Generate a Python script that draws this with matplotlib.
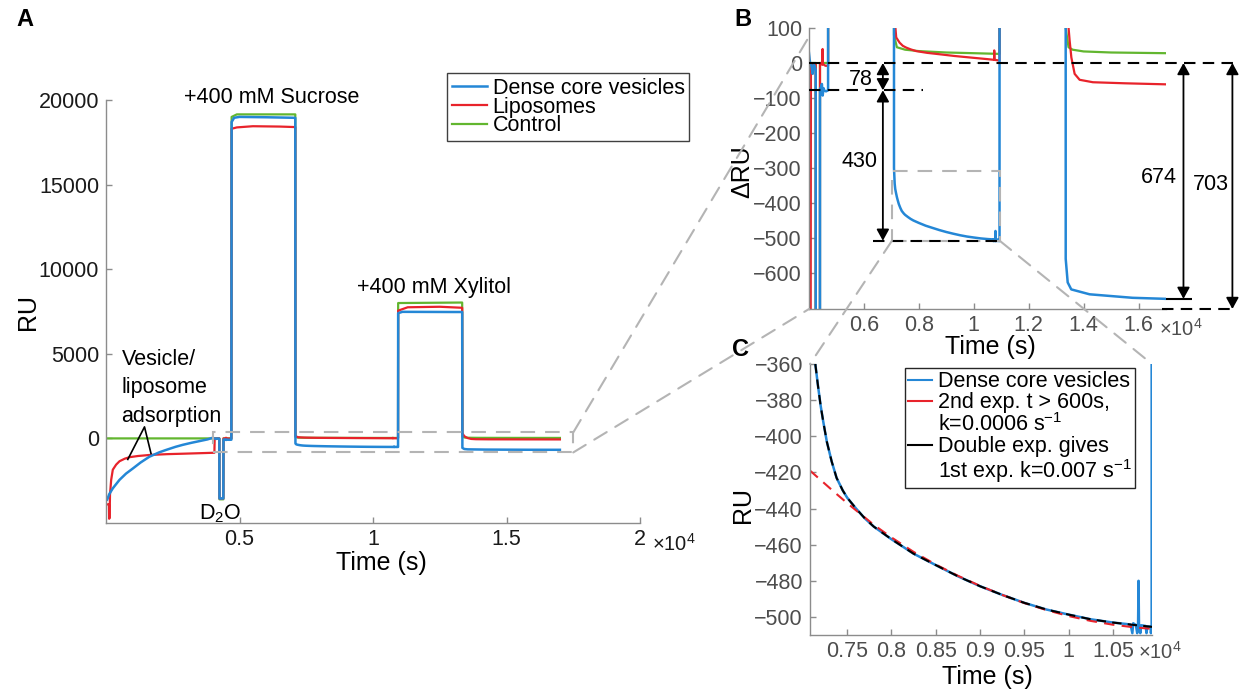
import matplotlib
matplotlib.use('Agg')
import matplotlib.pyplot as plt
from matplotlib.patches import ConnectionPatch, Rectangle
from matplotlib.lines import Line2D

plt.rcParams['font.family'] = ['Liberation Sans', 'DejaVu Sans']
plt.rcParams['mathtext.fontset'] = 'custom'
plt.rcParams['mathtext.rm'] = 'Liberation Sans'
plt.rcParams['mathtext.it'] = 'Liberation Sans:italic'
plt.rcParams['mathtext.bf'] = 'Liberation Sans:bold'

# ---------------- data ----------------
dcv_t = [0, 40, 120, 255, 506, 750, 1004, 1300, 1629, 2000, 2254, 2600, 2876, 3200, 3500, 3800,
         3990, 4036, 4098, 4134, 4170, 4207, 4245, 4250, 4395, 4400, 4436, 4470, 4498, 4530, 4560,
         4620, 4695, 4705, 4800, 5000, 6000, 7000, 7090, 7095, 7120, 7140, 7170, 7200, 7230, 7270,
         7325, 7380, 7450, 7500, 7600, 7700, 7800, 8000, 8250, 8500, 8750, 9000, 9250, 9500, 9750,
         10000, 10250, 10500, 10650, 10700, 10720, 10730, 10760, 10775, 10785, 10790, 10795, 10810,
         10820, 10870, 10880, 10890, 10925, 10930, 10938, 10942, 11100, 13000, 13340, 13348, 13420,
         13550, 14218, 15782, 17000]
dcv_ru = [-3650, -3640, -3300, -2950, -2450, -2080, -1780, -1420, -1080, -820, -680, -500, -380, -260, -160, -60,
          35, 2, -12, -31, -5, -8, -20, -3550, -3550, -75, -69, -60, -93, -72, -79,
          -81, -78, 18700, 18950, 19000, 18980, 18950, 18940, -300, -345, -360, -372, -383, -392, -403,
          -414, -423, -430, -434, -440, -445.5, -450, -457, -465, -471.3, -477.5, -483, -487.8, -492.2, -495.9,
          -498.7, -501.3, -503.1, -503.9, -504.2, -509, -503.5, -504.5, -509, -503, -480, -504, -509,
          -504.6, -505, -509, -505.2, -505.4, -509, -505.5, 7400, 7480, 7470, 7470, -560, -627,
          -647, -661, -671, -674]

lipo_t = [0, 110, 118, 135, 150, 194, 255, 380, 506, 700, 880, 1200, 1629, 2300, 2876, 3500, 4060,
          4070, 4150, 4245, 4250, 4395, 4400, 4480, 4495, 4505, 4600, 4695, 4705, 4900, 5500, 6500,
          7090, 7095, 7176, 7300, 7418, 7540, 7700, 7903, 8300, 8752, 9300, 9964, 10500, 10740, 10745,
          10755, 10938, 10942, 11300, 12500, 13340, 13348, 13420, 13491, 13553, 13673, 13855, 14338,
          15500, 17000]
lipo_ru = [-3900, -3900, -4750, -4700, -3300, -2450, -1850, -1550, -1350, -1200, -1110, -1040, -980, -930, -905, -875, -848,
           -10, -5, -5, -3550, -3550, 0, -5, 40, -3, -8, -8, 18300, 18380, 18450, 18430,
           18400, 150, 73, 58, 49, 44, 39, 34, 29, 25, 20, 15, 11, 9, 36,
           9, 7, 7550, 7750, 7780, 7720, 300, 130, 64, 16, -31, -48, -55,
           -58, -61]

ctrl_t = [0, 4245, 4250, 4395, 4400, 4695, 4705, 4900, 7090, 7095, 7200, 7500, 8000, 9000, 10000,
          10938, 10942, 13340, 13348, 13450, 13600, 14000, 15000, 17000]
ctrl_ru = [0, 0, -3600, -3600, 0, 0, 19000, 19150, 19150, 80, 45, 38, 34, 30, 28,
           26, 8000, 8030, 100, 45, 38, 33, 30, 28]

# single exponential fit (t > 600 s), panel C
fit1_t = [7080, 7200, 7350, 7500, 7650, 7800, 8000, 8250, 8500, 8750, 9000, 9250, 9500, 9750,
          10000, 10250, 10500, 10750, 10942]
fit1_ru = [-419, -424.2, -430.7, -437, -443, -449, -456, -464, -471, -477.2, -482.8, -487.8, -492.3,
           -496.2, -499.5, -502.2, -504.3, -505.8, -506.6]
# double exponential fit, panel C
fit2_t = [7140, 7170, 7200, 7230, 7270, 7325, 7380, 7450, 7500, 7600, 7700, 7800, 8000, 8250, 8500,
          8750, 9000, 9250, 9500, 9750, 10000, 10250, 10500, 10750, 10942]
fit2_ru = [-360, -372, -383, -392, -403, -414, -423, -430, -434, -440, -445.5, -450, -457, -465, -471.3,
           -477.5, -483, -487.8, -492.2, -495.9, -498.7, -501.3, -503.1, -504.5, -505.5]

# reference levels in panel B (RU) and the differences annotated
lvl_base = 0
lvl_d2o = -78
lvl_suc = -508
lvl_dcv = -674
lvl_bottom = -703
labels_B = ['78', '430', '674', '703']

series_labels = ['Dense core vesicles', 'Liposomes', 'Control']
fit_labels = ['Dense core vesicles', '2nd exp. t > 600s,', 'k=0.0006 s$^{-1}$',
              'Double exp. gives', '1st exp. k=0.007 s$^{-1}$']

A_xticks = [5000, 10000, 15000, 20000]
A_xticklabels = ['0.5', '1', '1.5', '2']
A_yticks = [0, 5000, 10000, 15000, 20000]
B_xticks = [6000, 8000, 10000, 12000, 14000, 16000]
B_xticklabels = ['0.6', '0.8', '1', '1.2', '1.4', '1.6']
B_yticks = [-600, -500, -400, -300, -200, -100, 0, 100]
C_xticks = [7500, 8000, 8500, 9000, 9500, 10000, 10500]
C_xticklabels = ['0.75', '0.8', '0.85', '0.9', '0.95', '1', '1.05']
C_yticks = [-500, -480, -460, -440, -420, -400, -380, -360]

# ---------------- styling ----------------
W, H = 1251, 693
c_dcv = '#2487d6'
c_lipo = '#e8232b'
c_ctrl = '#62b62f'
c_gray = '#b4b4b4'
spine_c = '#8c8c8c'
FS = 15.5
LFS = 18

fig = plt.figure(figsize=(W / 100, H / 100), dpi=100)
axA = fig.add_axes([106 / W, 1 - 523 / H, 534 / W, 423 / H])
axB = fig.add_axes([809 / W, 1 - 309 / H, 357 / W, 281 / H])
axC = fig.add_axes([810 / W, 1 - 635 / H, 342 / W, 271 / H])


def style(ax, labc):
    for s in ['top', 'right']:
        ax.spines[s].set_visible(False)
    for s in ['left', 'bottom']:
        ax.spines[s].set_color(spine_c)
        ax.spines[s].set_linewidth(1.0)
    ax.tick_params(direction='in', length=4, width=1, color=spine_c, labelcolor=labc,
                   labelsize=FS)
    ax.tick_params(axis='y', pad=5)
    ax.tick_params(axis='x', pad=4)


gray_dash = (0, (7, 4.8))
LW = 1.6
LWB = 1.8

# ---------------- panel A ----------------
style(axA, '#1a1a1a')
lc, = axA.plot(ctrl_t, ctrl_ru, color=c_ctrl, lw=LW)
ll, = axA.plot(lipo_t, lipo_ru, color=c_lipo, lw=LW)
lb, = axA.plot(dcv_t, dcv_ru, color=c_dcv, lw=LWB)
axA.set_xlim(0, 20000)
axA.set_ylim(-5000, 20000)
axA.set_xticks(A_xticks)
axA.set_xticklabels(A_xticklabels)
axA.set_yticks(A_yticks)
axA.set_xlabel('Time (s)', fontsize=LFS, va='center')
axA.xaxis.set_label_coords(0.515, -0.094)
axA.set_ylabel('RU', fontsize=LFS, va='center')
axA.yaxis.set_label_coords(-0.146, 0.5)
axA.add_patch(Rectangle((4000, -830), 13500, 1180, fill=False, ec=c_gray, lw=1.5,
                        ls=gray_dash, zorder=3))
axA.text(6217, 19822, '+400 mM Sucrose', ha='center', va='baseline', fontsize=FS)
axA.text(12300, 8580, '+400 mM Xylitol', ha='center', va='baseline', fontsize=FS)
axA.text(580, 5266, 'Vesicle/\nliposome\nadsorption', ha='left', va='top', fontsize=FS,
         linespacing=1.45)
axA.plot([816, 1442, 1685], [-1243, 680, -888], color='k', lw=1.2)
axA.text(4288, -4793, 'D$_2$O', ha='center', va='baseline', fontsize=FS)
legA = axA.legend([lb, ll, lc], series_labels, loc='upper left',
                  bbox_to_anchor=(447 / W, 1 - 73 / H), bbox_transform=fig.transFigure,
                  borderaxespad=0, fontsize=FS, fancybox=False, edgecolor='#404040',
                  framealpha=1, borderpad=0.22, labelspacing=-0.1, handlelength=1.65,
                  handletextpad=0.25)
legA.get_frame().set_linewidth(1.0)
fig.text(652 / W, 1 - 551 / H, '×10$^{4}$', ha='left', va='baseline', fontsize=14.5,
         color='#1a1a1a')

# ---------------- panel B ----------------
style(axB, '#4d4d4d')
axB.plot(ctrl_t, ctrl_ru, color=c_ctrl, lw=LW)
axB.plot(lipo_t, lipo_ru, color=c_lipo, lw=LW)
axB.plot(dcv_t, dcv_ru, color=c_dcv, lw=LWB)
axB.set_xlim(4000, 17000)
axB.set_ylim(lvl_bottom, 100)
axB.set_xticks(B_xticks)
axB.set_xticklabels(B_xticklabels)
axB.set_yticks(B_yticks)
axB.set_xlabel('Time (s)', fontsize=LFS, va='center')
axB.xaxis.set_label_coords(0.507, -0.135)
axB.set_ylabel('ΔRU', fontsize=LFS, va='center')
axB.yaxis.set_label_coords(-0.188, 0.4875)
fig.text(1159 / W, 1 - 336 / H, '×10$^{4}$', ha='left', va='baseline', fontsize=14.5,
         color='#4d4d4d')

kdash = (0, (5.5, 3.5))
axB.hlines(lvl_base, 4000, 19600, colors='k', lw=1.5, linestyles=kdash, clip_on=False, zorder=4)
axB.hlines(lvl_d2o, 4000, 8150, colors='k', lw=1.5, linestyles=kdash, clip_on=False, zorder=4)
axB.hlines(lvl_suc, 6330, 10950, colors='k', lw=1.5, linestyles=kdash, clip_on=False, zorder=4)
axB.hlines(lvl_dcv, 17000, 17950, colors='k', lw=1.5, clip_on=False, zorder=4)
axB.hlines(lvl_bottom, 16850, 19600, colors='k', lw=1.5, linestyles=kdash, clip_on=False, zorder=4)
axB.add_patch(Rectangle((7020, lvl_suc), 3925, 200, fill=False, ec=c_gray, lw=1.5,
                        ls=gray_dash, zorder=3))

arrow_kw = dict(arrowstyle='<|-|>,head_length=0.4,head_width=0.22', mutation_scale=17,
                color='k', lw=1.3, shrinkA=0, shrinkB=0)
arrows = [(6690, lvl_base, lvl_d2o), (6690, lvl_d2o, lvl_suc),
          (17636, lvl_base, lvl_dcv), (19418, lvl_base, lvl_bottom)]
for (x, y0, y1) in arrows:
    axB.annotate('', xy=(x, y1), xytext=(x, y0), arrowprops=arrow_kw, annotation_clip=False)
label_pos = [(5891, -47), (5836, -281), (16745, -328), (18618, -348)]
for (x, y), s in zip(label_pos, labels_B):
    axB.text(x, y, s, ha='center', va='center', fontsize=FS, color='k')

# ---------------- panel C ----------------
style(axC, '#4d4d4d')
hb, = axC.plot(dcv_t, dcv_ru, color=c_dcv, lw=LWB)
hr, = axC.plot(fit1_t, fit1_ru, color=c_lipo, lw=1.5, ls=(0, (5, 3.5)))
hk, = axC.plot(fit2_t, fit2_ru, color='k', lw=1.5, ls=(0, (4.5, 3)))
axC.set_xlim(7080, 10942)
axC.set_ylim(-510, -360)
axC.set_xticks(C_xticks)
axC.set_xticklabels(C_xticklabels)
axC.set_yticks(C_yticks)
axC.set_xlabel('Time (s)', fontsize=LFS, va='center')
axC.xaxis.set_label_coords(0.518, -0.155)
axC.set_ylabel('RU', fontsize=LFS, va='center')
axC.yaxis.set_label_coords(-0.196, 0.48)
fig.text(1138 / W, 1 - 659 / H, '×10$^{4}$', ha='left', va='baseline', fontsize=14.5,
         color='#4d4d4d')
blank = Line2D([], [], color='none')
legC = axC.legend([Line2D([], [], color=c_dcv, lw=1.5), Line2D([], [], color=c_lipo, lw=1.5),
                   blank, Line2D([], [], color='k', lw=1.5), blank], fit_labels,
                  loc='upper left', bbox_to_anchor=(905 / W, 1 - 368 / H),
                  bbox_transform=fig.transFigure, borderaxespad=0, fontsize=FS,
                  fancybox=False, edgecolor='#262626', framealpha=1, borderpad=0.15,
                  labelspacing=0.0, handlelength=1.1, handletextpad=0.3)
legC.get_frame().set_linewidth(1.0)

# ---------------- connectors ----------------
con_kw = dict(color=c_gray, lw=1.5, ls=gray_dash)
for xyA, axa, xyB, axb in [((17500, 350), axA, (4000, 75), axB),
                           ((17500, -830), axA, (4000, lvl_bottom), axB),
                           ((7020, lvl_suc), axB, (7080, -360), axC),
                           ((10945, lvl_suc), axB, (10942, -360), axC)]:
    con = ConnectionPatch(xyA=xyA, coordsA=axa.transData, xyB=xyB, coordsB=axb.transData,
                          **con_kw)
    fig.add_artist(con)

# ---------------- panel letters ----------------
fig.text(16 / W, 1 - 20 / H, 'A', ha='left', va='center', fontsize=17, fontweight='bold')
fig.text(734 / W, 1 - 19 / H, 'B', ha='left', va='center', fontsize=17, fontweight='bold')
fig.text(732 / W, 1 - 350 / H, 'C', ha='left', va='center', fontsize=17, fontweight='bold')

fig.savefig('out.png', dpi=100)
